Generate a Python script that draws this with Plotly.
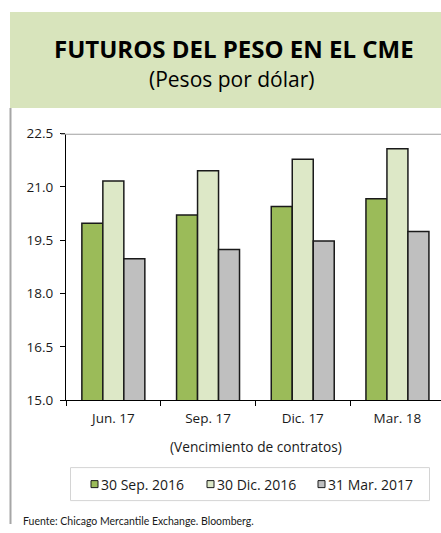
import plotly.graph_objects as go

categories = ["Jun. 17", "Sep. 17", "Dic. 17", "Mar. 18"]
series_names = ["30 Sep. 2016", "30 Dic. 2016", "31 Mar. 2017"]
sep2016 = [19.98, 20.21, 20.45, 20.67]
dic2016 = [21.17, 21.46, 21.78, 22.08]
mar2017 = [18.98, 19.24, 19.48, 19.75]
y_ticks = [15.0, 16.5, 18.0, 19.5, 21.0, 22.5]
colors = ["#9BBB59", "#DDE8C7", "#BFBFBF"]

W, H = 441, 533
FONT = "Open Sans"
# the photographed page shows the figure offset/scaled vertically; compensate
OFF, SC = 8.0, 0.966

def px(x):
    return x / W

def py(t):
    f = (t - OFF) / SC
    return 1 - f / H

fig = go.Figure()
for name, vals, col in zip(series_names, [sep2016, dic2016, mar2017], colors):
    fig.add_trace(go.Bar(
        x=categories, y=vals, name=name,
        marker=dict(color=col, line=dict(color="#1a1a1a", width=1.5)),
    ))

shapes = [
    dict(type="rect", xref="paper", yref="paper", x0=px(10), x1=1, y0=py(107), y1=py(11),
         fillcolor="#D8E4BC", line=dict(width=0), layer="below"),
    dict(type="line", xref="paper", yref="paper", x0=px(10.5), x1=px(10.5), y0=0, y1=py(107),
         line=dict(color="#A6A6A6", width=2)),
    dict(type="line", xref="paper", yref="y", x0=px(61), x1=1, y0=22.5, y1=22.5,
         line=dict(color="#A0A0A0", width=2)),
    dict(type="rect", xref="paper", yref="paper", x0=px(70.5), x1=px(429.5), y0=py(499.5), y1=py(466.5),
         fillcolor="white", line=dict(color="#D4D4D4", width=1)),
]
annotations = [
    dict(text="<b>FUTUROS DEL PESO EN EL CME</b>", xref="paper", yref="paper",
         x=px(234), y=py(47), xanchor="center", yanchor="middle", showarrow=False,
         font=dict(size=24, color="#000")),
    dict(text="(Pesos por dólar)", xref="paper", yref="paper",
         x=px(232), y=py(77.5), xanchor="center", yanchor="middle", showarrow=False,
         font=dict(size=21, color="#000")),
    dict(text="(Vencimiento de contratos)", xref="paper", yref="paper",
         x=px(256), y=py(445), xanchor="center", yanchor="middle", showarrow=False,
         font=dict(size=13.7)),
    dict(text="Fuente: Chicago Mercantile Exchange. Bloomberg.", xref="paper", yref="paper",
         x=px(21), y=py(520), xanchor="left", yanchor="middle", showarrow=False,
         font=dict(size=10.5, family="Lato")),
]

legend_key_x = [91, 207, 318]
for name, col, kx in zip(series_names, colors, legend_key_x):
    shapes.append(dict(type="rect", xref="paper", yref="paper",
                       x0=px(kx), x1=px(kx + 7), y0=py(486.5), y1=py(479.5),
                       fillcolor=col, line=dict(color="#1a1a1a", width=1)))
    annotations.append(dict(text=name, xref="paper", yref="paper", x=px(kx + 7.5), y=py(483),
                            xanchor="left", yanchor="middle", showarrow=False,
                            font=dict(size=14)))

fig.update_layout(
    width=W, height=H,
    margin=dict(l=0, r=0, t=0, b=0),
    paper_bgcolor="white", plot_bgcolor="white",
    barmode="group", bargap=0.335, bargroupgap=0,
    font=dict(family=FONT, size=13, color="#1a1a1a"),
    showlegend=False,
    xaxis=dict(
        domain=[px(66), 1], range=[-0.5, 3.46],
        showline=True, linecolor="#000", linewidth=1,
        ticks="outside", tickson="boundaries", ticklen=5, tickcolor="#000",
        ticklabelstandoff=6,
        showgrid=False, tickfont=dict(size=13.5),
    ),
    yaxis=dict(
        domain=[py(399), py(132.7)], range=[15, 22.5],
        tickvals=y_ticks, ticktext=[f"{v:.1f}" for v in y_ticks],
        showline=True, linecolor="#000", linewidth=1,
        ticks="outside", ticklen=5, tickcolor="#000",
        ticklabelstandoff=4,
        showgrid=False, zeroline=False, tickfont=dict(size=13.5),
    ),
    shapes=shapes,
    annotations=annotations,
)

post = (
    "document.documentElement.style.margin='0';"
    "document.body.style.margin='0';"
    "document.documentElement.style.overflow='hidden';"
    "document.body.style.overflow='hidden';"
    "var d=document.getElementById('{plot_id}');"
    "d.style.position='fixed';d.style.top='0px';d.style.left='0px';"
)
fig.write_html("out.html", config={"displayModeBar": False}, post_script=post)
